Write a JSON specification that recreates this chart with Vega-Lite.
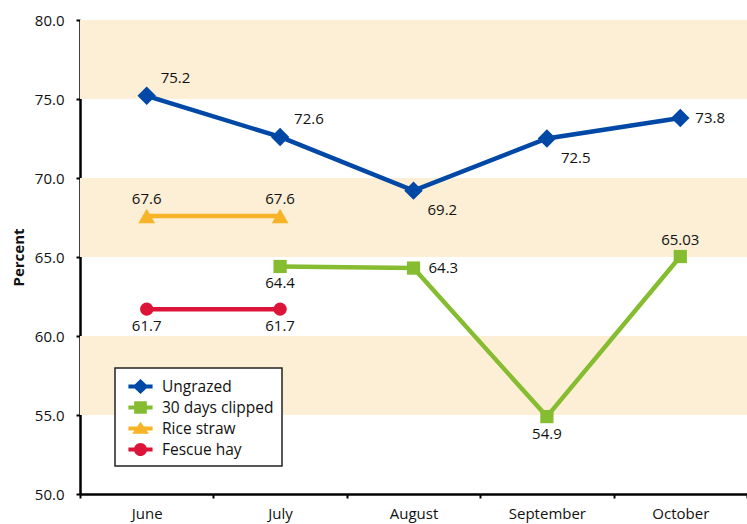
{
  "$schema": "https://vega.github.io/schema/vega-lite/v6.json",
  "width": 667,
  "height": 474,
  "autosize": "none",
  "padding": {"left": 80, "top": 20, "right": 0, "bottom": 30},
  "background": "white",
  "config": {
    "font": "Open Sans",
    "view": {"stroke": null},
    "axis": {"labelFont": "Open Sans", "titleFont": "Open Sans", "labelColor": "#111", "titleColor": "#111", "domainColor": "#000", "tickColor": "#000", "grid": false}
  },
  "datasets": {
    "bands": [
      {"lo": 75, "hi": 80},
      {"lo": 65, "hi": 70},
      {"lo": 55, "hi": 60}
    ],
    "pts": [
      {"s": "Ungrazed", "m": "June", "v": 75.2},
      {"s": "Ungrazed", "m": "July", "v": 72.6},
      {"s": "Ungrazed", "m": "August", "v": 69.2},
      {"s": "Ungrazed", "m": "September", "v": 72.5},
      {"s": "Ungrazed", "m": "October", "v": 73.8},
      {"s": "30 days clipped", "m": "July", "v": 64.4},
      {"s": "30 days clipped", "m": "August", "v": 64.3},
      {"s": "30 days clipped", "m": "September", "v": 54.9},
      {"s": "30 days clipped", "m": "October", "v": 65.03},
      {"s": "Rice straw", "m": "June", "v": 67.6},
      {"s": "Rice straw", "m": "July", "v": 67.6},
      {"s": "Fescue hay", "m": "June", "v": 61.7},
      {"s": "Fescue hay", "m": "July", "v": 61.7}
    ]
  },
  "layer": [
    {
      "data": {"name": "bands"},
      "mark": {"type": "rect", "color": "#fdeed6"},
      "encoding": {
        "y": {"field": "lo", "type": "quantitative", "scale": {"domain": [50, 80]}},
        "y2": {"field": "hi"}
      }
    },
    {
      "data": {"name": "pts"},
      "encoding": {
        "x": {
          "field": "m", "type": "nominal",
          "sort": ["June", "July", "August", "September", "October"],
          "scale": {"domain": ["June", "July", "August", "September", "October"], "paddingInner": 0, "paddingOuter": 0},
          "axis": {"title": null, "labelAngle": 0, "labelFontSize": 15, "domainWidth": 2.5, "tickBand": "extent", "tickSize": 4, "tickWidth": 2, "labelPadding": 8}
        },
        "y": {
          "field": "v", "type": "quantitative",
          "scale": {"domain": [50, 80], "nice": false, "zero": false},
          "axis": {"title": "Percent", "titleFontSize": 15, "titleFontWeight": "bold", "titlePadding": 8, "values": [50, 55, 60, 65, 70, 75, 80], "format": ".1f", "labelFontSize": 15, "domainWidth": 2.5, "tickSize": 4, "tickWidth": 2, "labelPadding": 12}
        },
        "color": {
          "field": "s", "type": "nominal",
          "scale": {"domain": ["Ungrazed", "30 days clipped", "Rice straw", "Fescue hay"], "range": ["#0048a5", "#86bc30", "#f6b426", "#dd1439"]},
          "legend": {
            "title": null,
            "orient": "none",
            "legendX": 35,
            "legendY": 348,
            "padding": 8,
            "strokeColor": "#222",
            "fillColor": "white",
            "labelFontSize": 15.5,
            "labelFont": "Open Sans",
            "labelColor": "#111",
            "symbolSize": 441,
            "symbolOffset": 7,
            "labelOffset": 11,
            "rowPadding": 2,
            "symbolStrokeWidth": 0,
            "encode": {
              "legend": {
                "update": {
                  "strokeWidth": {"value": 1.5}
                }
              },
              "symbols": {
                "update": {
                  "fill": {"scale": "color", "field": "value"},
                  "stroke": {"value": "transparent"},
                  "strokeWidth": {"value": 0},
                  "opacity": {"value": 1},
                  "shape": {"signal": "datum.value === 'Ungrazed' ? 'M-1.15,-0.18H1.15V0.18H-1.15Z M0,-0.72L0.75,0L0,0.72L-0.75,0Z' : datum.value === '30 days clipped' ? 'M-1.15,-0.18H1.15V0.18H-1.15Z M-0.6,-0.6H0.6V0.6H-0.6Z' : datum.value === 'Rice straw' ? 'M-1.15,-0.18H1.15V0.18H-1.15Z M0,-0.65L0.8,0.5L-0.8,0.5Z' : 'M-1.15,-0.18H1.15V0.18H-1.15Z M-0.62,0A0.62,0.62 0 1,1 0.62,0A0.62,0.62 0 1,1 -0.62,0Z'"}
                }
              }
            }
          }
        }
      },
      "layer": [
        {
          "mark": {"type": "line", "strokeWidth": 4.5}
        },
        {
          "transform": [{"filter": "datum.s === 'Ungrazed'"}],
          "mark": {"type": "point", "filled": true, "opacity": 1, "shape": "diamond", "size": 340}
        },
        {
          "transform": [{"filter": "datum.s === '30 days clipped'"}],
          "mark": {"type": "point", "filled": true, "opacity": 1, "shape": "square", "size": 175}
        },
        {
          "transform": [{"filter": "datum.s === 'Rice straw'"}],
          "mark": {"type": "point", "filled": true, "opacity": 1, "shape": "triangle-up", "size": 280}
        },
        {
          "transform": [{"filter": "datum.s === 'Fescue hay'"}],
          "mark": {"type": "point", "filled": true, "opacity": 1, "shape": "circle", "size": 175}
        },
        {
          "transform": [{"filter": "datum.s === 'Ungrazed' && (datum.m === 'June' || datum.m === 'July')"}],
          "mark": {"type": "text", "align": "left", "baseline": "middle", "dx": 14, "dy": -18, "fontSize": 15},
          "encoding": {"text": {"field": "v"}, "color": {"value": "#111"}}
        },
        {
          "transform": [{"filter": "datum.s === 'Ungrazed' && (datum.m === 'August' || datum.m === 'September')"}],
          "mark": {"type": "text", "align": "left", "baseline": "middle", "dx": 14, "dy": 19, "fontSize": 15},
          "encoding": {"text": {"field": "v"}, "color": {"value": "#111"}}
        },
        {
          "transform": [{"filter": "(datum.s === 'Ungrazed' && datum.m === 'October') || (datum.s === '30 days clipped' && datum.m === 'August')"}],
          "mark": {"type": "text", "align": "left", "baseline": "middle", "dx": 15, "dy": 0, "fontSize": 15},
          "encoding": {"text": {"field": "v"}, "color": {"value": "#111"}}
        },
        {
          "transform": [{"filter": "datum.s === 'Rice straw' || (datum.s === '30 days clipped' && datum.m === 'October')"}],
          "mark": {"type": "text", "align": "center", "baseline": "middle", "dy": -17, "fontSize": 15},
          "encoding": {"text": {"field": "v"}, "color": {"value": "#111"}}
        },
        {
          "transform": [{"filter": "datum.s === 'Fescue hay' || (datum.s === '30 days clipped' && (datum.m === 'July' || datum.m === 'September'))"}],
          "mark": {"type": "text", "align": "center", "baseline": "middle", "dy": 17, "fontSize": 15},
          "encoding": {"text": {"field": "v"}, "color": {"value": "#111"}}
        }
      ]
    }
  ]
}
